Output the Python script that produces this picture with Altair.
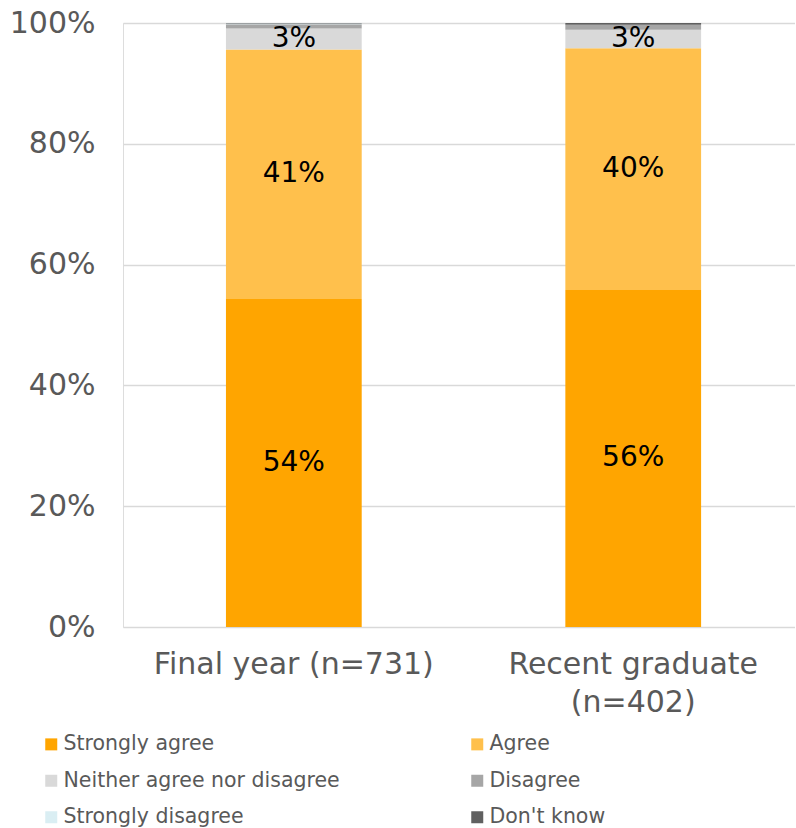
import altair as alt
import pandas as pd

groups = ["Final year (n=731)", "Recent graduate (n=402)"]
responses = ["Strongly agree", "Agree", "Neither agree nor disagree",
             "Disagree", "Strongly disagree", "Don't know"]
final_year = [54.3, 41.3, 3.5, 0.7, 0.1, 0.1]
recent_grad = [55.8, 40.0, 3.1, 0.8, 0.0, 0.3]
labels_final = ["54%", "41%", "3%", "", "", ""]
labels_recent = ["56%", "40%", "3%", "", "", ""]
colors = ["#FFA500", "#FFC04C", "#D9D9D9", "#A6A6A6", "#DAEEF3", "#606060"]

# legend is laid out column by column: order entries so rows read left-to-right
legend_order = [0, 2, 4, 1, 3, 5]
legend_domain = [responses[i] for i in legend_order]
legend_range = [colors[i] for i in legend_order]

rows = []
for g, vals, labs in [(groups[0], final_year, labels_final), (groups[1], recent_grad, labels_recent)]:
    for i, (r, v, l) in enumerate(zip(responses, vals, labs)):
        rows.append({"group": g, "response": r, "value": v, "order": i, "label": l})
df = pd.DataFrame(rows)

FONT = "DejaVu Sans"

base = alt.Chart(df)

bars = base.mark_bar().encode(
    x=alt.X("group:N", sort=groups,
            scale=alt.Scale(paddingInner=0.6, paddingOuter=0.29, align=0.523),
            axis=alt.Axis(title=None, labelAngle=0, labelFontSize=30, labelColor="#595959",
                          labelFont=FONT, ticks=False, domain=False, labelPadding=22,
                          labelLineHeight=38, labelLimit=0,
                          labelExpr="datum.value == 'Recent graduate (n=402)' ? ['Recent graduate', '(n=402)'] : datum.label")),
    y=alt.Y("value:Q", stack="zero",
            scale=alt.Scale(domain=[0, 100], nice=False),
            axis=alt.Axis(title=None, values=[0, 20, 40, 60, 80, 100],
                          labelExpr="datum.value + '%'", labelFontSize=30,
                          labelColor="#595959", labelFont=FONT, ticks=False,
                          domain=False, labelPadding=28, gridColor="#D9D9D9",
                          gridWidth=1.3)),
    color=alt.Color("response:N", sort=legend_domain,
                    scale=alt.Scale(domain=legend_domain, range=legend_range),
                    legend=alt.Legend(title=None, orient="none", legendX=-82, legendY=711,
                                      columns=2, columnPadding=127, rowPadding=15.5,
                                      symbolType="square", symbolSize=144, symbolStrokeWidth=0,
                                      labelFontSize=20.5, labelColor="#595959", labelFont=FONT,
                                      labelLimit=400, labelOffset=2)),
    order=alt.Order("order:Q", sort="ascending"),
)

text = base.transform_stack(
    stack="value", groupby=["group"], as_=["y0", "y1"],
    sort=[alt.SortField("order", order="ascending")]
).transform_calculate(
    mid="(datum.y0 + datum.y1) / 2"
).transform_filter(
    "datum.label != ''"
).mark_text(fontSize=28, font=FONT, color="#000000", baseline="middle").encode(
    x=alt.X("group:N", sort=groups),
    y=alt.Y("mid:Q"),
    text="label:N",
)

chart = alt.layer(bars, text).properties(
    width=672, height=604,
    padding={"left": 9, "top": 8, "right": 0, "bottom": 0},
).configure_view(stroke=None).configure(background="white")

chart.save("out.html", embed_options={"renderer": "svg", "actions": False})
